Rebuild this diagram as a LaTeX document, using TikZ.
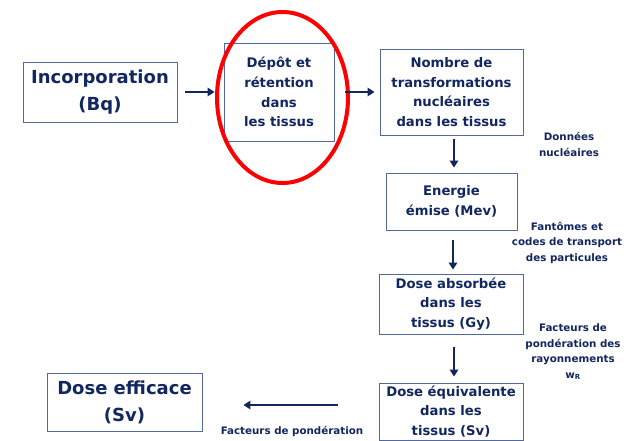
\documentclass[tikz,border=0pt]{standalone}
\usepackage{fontspec}
\setmainfont{DejaVu Sans}
\usetikzlibrary{arrows.meta,shapes.geometric}
\definecolor{navy}{RGB}{18,38,96}
\definecolor{frame}{RGB}{84,104,160}
\begin{document}
\begin{tikzpicture}[x=1pt,y=-1pt,
  stagebox/.style={draw=frame,line width=0.9pt,inner sep=0pt,align=center,
    text=navy,font=\bfseries\fontsize{13.2}{19.8}\selectfont},
  bigbox/.style={stagebox,font=\bfseries\fontsize{18}{27}\selectfont},
  note/.style={inner sep=0pt,align=center,text=navy,
    font=\bfseries\fontsize{10.3}{15.5}\selectfont},
  flow/.style={draw=navy,line width=2.8pt,
    -{Triangle[length=7pt,width=8.5pt]}},
  ring/.style={draw=red,line width=4pt,ellipse,inner sep=0pt}]
\useasboundingbox (0,0) rectangle (631,441);
\fill[white] (0,0) rectangle (631,441);

% stages of the dose calculation
\node[bigbox,minimum width=154,minimum height=60] (inc) at (100,92)
  {Incorporation\\(Bq)};
\node[stagebox,minimum width=110,minimum height=98] (dep) at (279,92)
  {Dépôt et\\rétention\\dans\\les tissus};
\node[stagebox,minimum width=143,minimum height=86] (nom) at (451.5,92)
  {Nombre de\\transformations\\nucléaires\\dans les tissus};
\node[stagebox,minimum width=131,minimum height=57] (ene) at (451.5,201.5)
  {Energie\\émise (Mev)};
\node[stagebox,minimum width=144,minimum height=60] (abs) at (451,304)
  {Dose absorbée\\dans les\\tissus (Gy)};
\node[stagebox,minimum width=144,minimum height=57] (equ) at (451,411.5)
  {Dose équivalente\\dans les\\tissus (Sv)};
\node[bigbox,minimum width=155,minimum height=58] (eff) at (124.5,402)
  {Dose efficace\\(Sv)};

% highlight around the deposition stage
\node[ring,minimum width=131,minimum height=171] (hl) at (282.5,97.5) {};

% side notes
\node[note] (n1) at (569,144.5) {Données\\nucléaires};
\node[note] (n2) at (567,242.5) {Fantômes et\\codes de transport\\des particules};
\node[note] (n3) at (573,352) {Facteurs de\\pondération des\\rayonnements\\
  w\textsubscript{\fontsize{7}{7}\selectfont R}};
\node[note] (n4) at (292,431) {Facteurs de pondération};

% connectors
\draw[flow,shorten <=8pt,shorten >=9pt] (inc.east) -- (dep.west);
\draw[flow,shorten <=11pt,shorten >=5pt] (dep.east) -- (nom.west);
\draw[flow,shorten <=4pt,shorten >=5pt] ([xshift=2.5pt]nom.south) -- ([xshift=2.5pt]nom.south |- ene.north);
\draw[flow,shorten <=10pt,shorten >=4pt] ([xshift=1.5pt]ene.south) -- ([xshift=1.5pt]ene.south |- abs.north);
\draw[flow,shorten <=13pt,shorten >=6pt] ([xshift=3pt]abs.south) -- ([xshift=3pt]equ.north);
\path (equ.west |- eff.east) coordinate (el);
\draw[flow,shorten <=41pt,shorten >=41pt] ([yshift=-3pt]el) -- ([yshift=-3pt]eff.east);
\end{tikzpicture}
\end{document}
